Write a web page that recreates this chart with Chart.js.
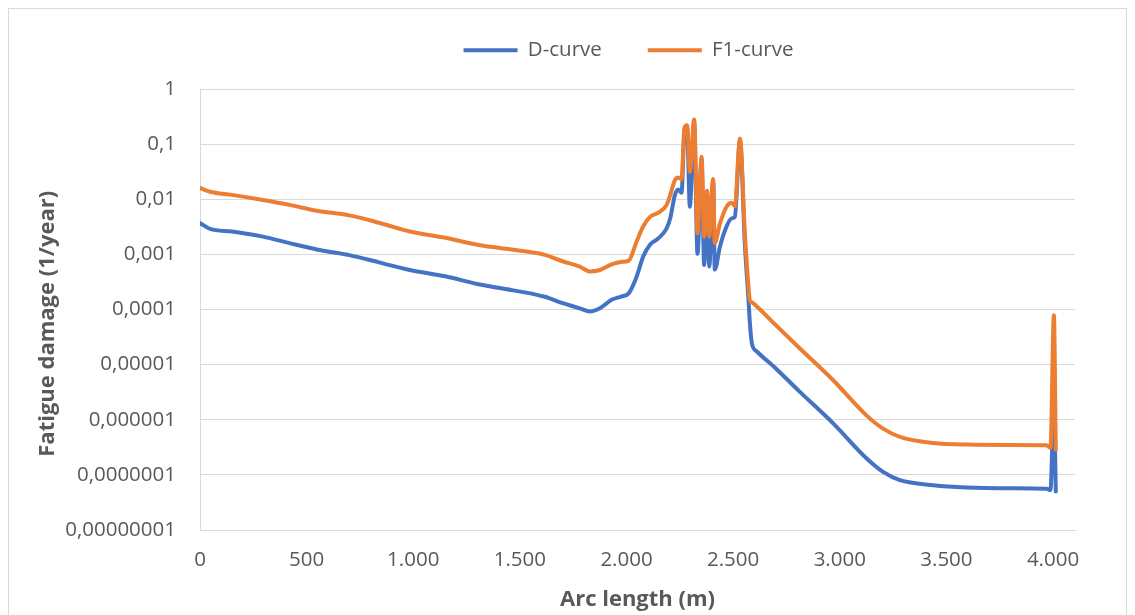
<!DOCTYPE html>
<html>
<head>
<meta charset="utf-8">
<script src="https://cdn.jsdelivr.net/npm/chart.js@4.4.1/dist/chart.umd.min.js"></script>
<style>
  html, body { margin: 0; padding: 0; background: #fff; }
  #wrap { width: 1135px; height: 615px; }
</style>
</head>
<body>
<div id="wrap"><canvas id="chart" width="1135" height="615"></canvas></div>
<script>
// Arc length (m) and fatigue damage (1/year)
const arcLength = [0, 47, 150, 295, 420, 547, 700, 844, 984, 1150, 1300, 1406, 1617, 1700, 1781, 1828, 1875,
  1930, 1975, 2010, 2047, 2078, 2110, 2149, 2188, 2205, 2227, 2243, 2258,
  2272, 2284, 2297, 2317, 2333, 2352, 2364, 2378, 2388, 2406, 2414, 2438, 2469, 2493, 2508, 2532,
  2555, 2572, 2578, 2588, 2610, 2700, 2813, 2969, 3125, 3203, 3282, 3438, 3594, 3800, 3969, 3988, 4004, 4013];

const dCurve = [0.0037, 0.0029, 0.0026, 0.0021, 0.0016, 0.00123, 0.00097, 0.00071, 0.00052, 0.0004, 0.00029, 0.000245, 0.00017, 0.00013, 0.000105, 0.000092, 0.000105,
  0.00015, 0.000172, 0.000196, 0.00039, 0.00091, 0.0015, 0.00195, 0.00297, 0.0045, 0.012, 0.0151, 0.0131,
  0.18, 0.2, 0.0073, 0.25, 0.00102, 0.053, 0.00064, 0.0128, 0.0006, 0.021, 0.00053, 0.00138, 0.0032, 0.0045, 0.0048, 0.115,
  0.0015, 0.00015, 0.00006, 0.000024, 0.0000175, 0.0000085, 0.0000032, 8.6e-7, 2.0e-7, 1.13e-7, 8.0e-8, 6.5e-8, 5.9e-8, 5.7e-8, 5.6e-8, 5.3e-8, 2e-6, 5.0e-8];

const f1Curve = [0.016, 0.0137, 0.012, 0.0097, 0.0079, 0.0062, 0.0051, 0.0037, 0.0026, 0.002, 0.0015, 0.0013, 0.00098, 0.00075, 0.0006, 0.00049, 0.00052,
  0.00066, 0.00073, 0.00077, 0.0017, 0.0032, 0.0048, 0.0057, 0.0079, 0.012, 0.0223, 0.0249, 0.0229,
  0.2, 0.22, 0.0316, 0.28, 0.0024, 0.059, 0.0021, 0.0143, 0.0021, 0.0233, 0.0016, 0.0036, 0.0073, 0.0086, 0.0075, 0.127,
  0.0024, 0.00026, 0.000148, 0.000135, 0.000115, 0.000052, 0.0000196, 0.0000052, 1.2e-6, 6.9e-7, 4.9e-7, 3.8e-7, 3.55e-7, 3.5e-7, 3.46e-7, 3.1e-7, 7.9e-5, 2.9e-7];

const yTicks = [1e-8, 1e-7, 1e-6, 1e-5, 1e-4, 1e-3, 1e-2, 1e-1, 1];
const yTickLabels = ['0,00000001', '0,0000001', '0,000001', '0,00001', '0,0001', '0,001', '0,01', '0,1', '1'];
const xTicks = [0, 500, 1000, 1500, 2000, 2500, 3000, 3500, 4000];
const xTickLabels = ['0', '500', '1.000', '1.500', '2.000', '2.500', '3.000', '3.500', '4.000'];

const FONT = "'Open Sans', 'Liberation Sans', sans-serif";
const TEXT = '#595959';
const GRID = '#d9d9d9';

// legend box height + position, chart frame
const chartFrame = {
  id: 'chartFrame',
  beforeLayout(chart) {
    const lg = chart.legend;
    if (lg && !lg._fixed) {
      const fit = lg.fit;
      lg.fit = function () { fit.call(this); this.height = 89; };
      lg._fixed = true;
    }
  },
  afterLayout(chart) {
    const lg = chart.legend;
    lg.left = 182;
    lg.right = 1075;
    lg.top = -6;
  },
  beforeDraw(chart) {
    const ctx = chart.ctx;
    ctx.save();
    ctx.fillStyle = '#fff';
    ctx.fillRect(0, 0, chart.width, chart.height);
    ctx.strokeStyle = GRID;
    ctx.lineWidth = 1;
    ctx.strokeRect(8.5, 8.5, 1118, 640);
    ctx.restore();
  }
};

const toPoints = (ys) => arcLength.map((x, i) => ({ x: x, y: ys[i] }));

new Chart(document.getElementById('chart'), {
  type: 'line',
  data: {
    datasets: [{
      label: 'D-curve',
      data: toPoints(dCurve),
      borderColor: '#4472C4',
      backgroundColor: '#4472C4',
      borderWidth: 4,
      pointRadius: 0,
      cubicInterpolationMode: 'monotone',
      borderJoinStyle: 'round',
      borderCapStyle: 'round',
      order: 2
    }, {
      label: 'F1-curve',
      data: toPoints(f1Curve),
      borderColor: '#ED7D31',
      backgroundColor: '#ED7D31',
      borderWidth: 4,
      pointRadius: 0,
      cubicInterpolationMode: 'monotone',
      borderJoinStyle: 'round',
      borderCapStyle: 'round',
      order: 1
    }]
  },
  options: {
    responsive: false,
    animation: false,
    devicePixelRatio: 1,
    layout: { padding: { left: 0, right: 60, top: 0, bottom: 0 } },
    plugins: {
      legend: {
        position: 'top',
        labels: {
          usePointStyle: true,
          pointStyle: 'line',
          pointStyleWidth: 54,
          padding: 46,
          color: TEXT,
          font: { family: FONT, size: 20.5 },
          sort: (a, b) => a.datasetIndex - b.datasetIndex
        }
      },
      tooltip: { enabled: false }
    },
    scales: {
      x: {
        type: 'linear',
        min: 0,
        max: 4103,
        afterBuildTicks: (s) => { s.ticks = xTicks.map(v => ({ value: v })); },
        afterFit: (s) => { s.height = 85; },
        grid: { display: false, drawTicks: false },
        border: { display: true, color: GRID, width: 1 },
        ticks: {
          padding: 18,
          color: TEXT,
          autoSkip: false,
          maxRotation: 0,
          font: { family: FONT, size: 20.5 },
          callback: (v, i) => xTickLabels[i]
        },
        title: {
          display: true,
          text: 'Arc length (m)',
          color: TEXT,
          font: { family: FONT, size: 22, weight: 'bold' },
          padding: { top: 0, bottom: 2 }
        }
      },
      y: {
        type: 'logarithmic',
        min: 1e-8,
        max: 1,
        afterBuildTicks: (s) => { s.ticks = yTicks.map(v => ({ value: v })); },
        afterFit: (s) => { s.width = 200; },
        grid: { color: GRID, lineWidth: 1, drawTicks: false },
        border: { display: true, color: GRID, width: 1 },
        ticks: {
          padding: 24,
          color: TEXT,
          autoSkip: false,
          font: { family: FONT, size: 20.5 },
          callback: (v, i) => yTickLabels[i]
        },
        title: {
          display: true,
          text: 'Fatigue damage (1/year)\u00a0\u00a0\u00a0\u00a0\u00a0',
          color: TEXT,
          font: { family: FONT, size: 22, weight: 'bold' },
          padding: { top: 35, bottom: 0 }
        }
      }
    }
  },
  plugins: [chartFrame]
});
</script>
</body>
</html>
